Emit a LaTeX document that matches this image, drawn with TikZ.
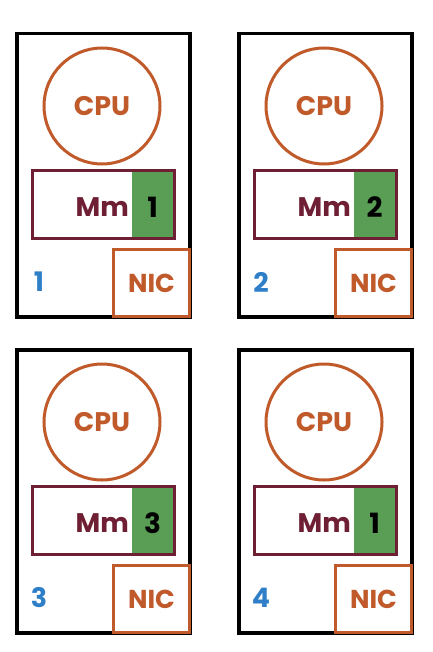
\documentclass[tikz,border=0pt]{standalone}
\usepackage{fontspec}
\setmainfont{Poppins}
\definecolor{cpuorange}{HTML}{C05A2A}
\definecolor{mmred}{HTML}{6E1F33}
\definecolor{mmgreen}{HTML}{5A9E55}
\definecolor{idblue}{HTML}{2F7FC8}
\tikzset{
  frame/.style={draw=black, line width=3.5bp, minimum width=173bp, minimum height=283bp, anchor=north west, inner sep=0pt},
  cpunode/.style={circle, draw=cpuorange, line width=3bp, minimum size=116bp, inner sep=0pt, text=cpuorange, font=\fontsize{27}{30}\selectfont\bfseries},
  mmbox/.style={draw=mmred, line width=3.2bp, minimum width=142bp, minimum height=68bp, anchor=north west, inner sep=0pt},
  greenbox/.style={fill=mmgreen, minimum width=41bp, minimum height=68bp, anchor=north west, inner sep=0pt},
  mmtext/.style={text=mmred, anchor=east, inner sep=0pt, font=\fontsize{27}{30}\selectfont\bfseries},
  numtext/.style={text=black, inner sep=0pt, font=\fontsize{28}{30}\selectfont\bfseries},
  idtext/.style={text=idblue, inner sep=0pt, font=\fontsize{27}{30}\selectfont\bfseries},
  nicbox/.style={draw=cpuorange, fill=white, line width=3bp, minimum width=76bp, minimum height=67bp, anchor=north west, inner sep=0pt, text=cpuorange, font=\fontsize{26}{30}\selectfont\bfseries}
}
\begin{document}
\begin{tikzpicture}[x=1bp,y=-1bp]
\useasboundingbox (0,0) rectangle (432,652);
\foreach \px/\py/\m/\n/\id in {15/32/1/1/a, 237/32/2/2/b, 15/348/3/3/c, 237/348/1/4/d} {
  \begin{scope}[shift={(\px,\py)}]
    \node[frame] (box\id) at (0,0) {};
    \node[cpunode] (cpu\id) at (87,74) {CPU};
    \node[greenbox] (green\id) at (117,137) {};
    \node[mmbox] (mm\id) at (16,137) {};
    \node[mmtext] (mmlabel\id) at (114,175) {Mm};
    \node[numtext] (num\id) at (137.5,175) {\m};
    \node[idtext] (id\id) at (24,250) {\n};
    \node[nicbox] (nic\id) at (97,216) {NIC};
  \end{scope}
}
\end{tikzpicture}
\end{document}
